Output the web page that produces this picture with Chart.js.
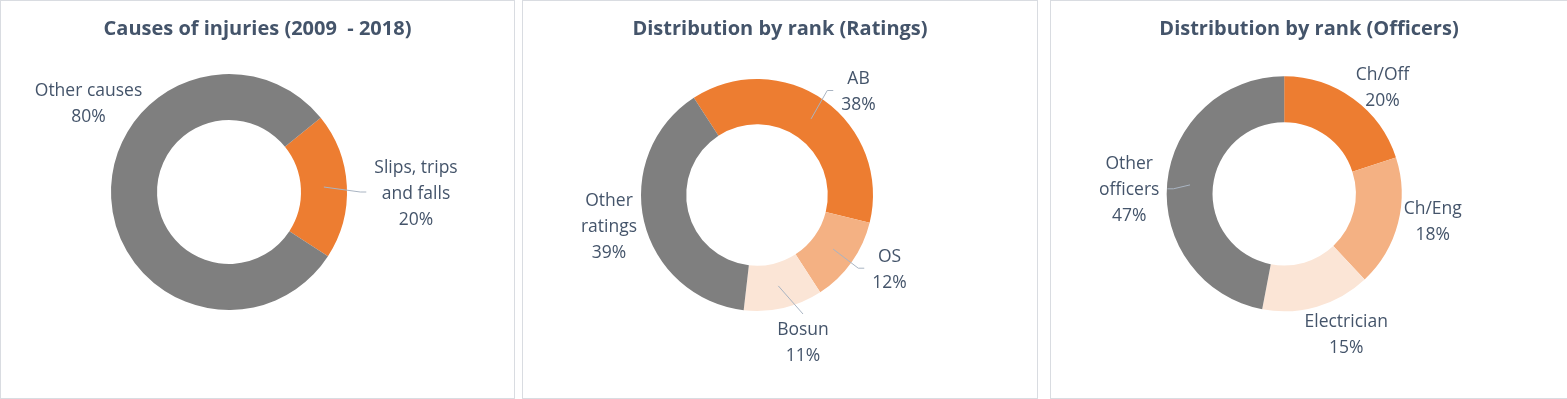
<!DOCTYPE html>
<html>
<head>
<meta charset="utf-8">
<script src="https://cdn.jsdelivr.net/npm/chart.js@4.4.0/dist/chart.umd.min.js"></script>
<style>
    html, body { margin: 0; padding: 0; background: #fff; }
    body { width: 1567px; height: 399px; position: relative; overflow: hidden; }
    .panel { position: absolute; top: 0; height: 399px; box-sizing: border-box; border: 1px solid #d9dce1; background: #fff; }
    .panel canvas { display: block; }
</style>
</head>
<body>
<div class="panel" style="left:0;width:515px"><canvas id="causesChart" width="513" height="397"></canvas></div>
<div class="panel" style="left:522px;width:516px"><canvas id="ratingsChart" width="514" height="397"></canvas></div>
<div class="panel" style="left:1050px;width:518px"><canvas id="officersChart" width="516" height="397"></canvas></div>

<script>
// data
const causeLabels = ["Slips, trips\nand falls", "Other causes"];
const causeValues = [20, 80];

const ratingLabels = ["AB", "OS", "Bosun", "Other\nratings"];
const ratingValues = [38, 12, 11, 39];

const officerLabels = ["Ch/Off", "Ch/Eng", "Electrician", "Other\nofficers"];
const officerValues = [20, 18, 15, 47];

const causeColors = ["#ED7D31", "#7F7F7F"];
const rankColors = ["#ED7D31", "#F4B183", "#FBE5D6", "#7F7F7F"];

const TEXT_COLOR = "#44546A";
const LEADER_COLOR = "#A9B4C2";
const LABEL_FONT = "17.5px 'Open Sans'";
const TITLE_FONT = "bold 20px 'Open Sans'";
const LINE_GAP = 26;

// draws title, data labels (name + percent) and leader lines
const calloutPlugin = {
    id: "callouts",
    afterDraw(chart, args, opts) {
        const ctx = chart.ctx;
        const arcs = chart.getDatasetMeta(0).data;
        const values = chart.data.datasets[0].data;
        const total = values.reduce((a, b) => a + b, 0);
        const cx = arcs[0].x;
        const cy = arcs[0].y;

        ctx.save();
        ctx.fillStyle = TEXT_COLOR;
        ctx.textAlign = "center";
        ctx.textBaseline = "alphabetic";
        ctx.font = TITLE_FONT;
        ctx.fillText(opts.title, chart.width / 2, 34);

        ctx.font = LABEL_FONT;
        chart.data.labels.forEach((label, i) => {
            const place = opts.placement[i];
            const lines = label.split("\n").concat(Math.round(values[i] / total * 100) + "%");
            const x = cx + place.dx;
            const y0 = cy + place.dy;
            lines.forEach((t, k) => ctx.fillText(t, x, y0 + k * LINE_GAP));

            if (!place.leader) return;
            const w = Math.max(...lines.map(t => ctx.measureText(t).width));
            const top = y0 - 13;
            const bottom = y0 + (lines.length - 1) * LINE_GAP;
            const mid = (top + bottom) / 2;
            const p = arcs[i].getCenterPoint();
            let pts;
            if (Math.abs(x - p.x) > Math.abs(mid - p.y)) {
                const dir = x > p.x ? -1 : 1;
                const ex = x + dir * (w / 2 + 8);
                pts = [p, { x: ex + dir * 6, y: mid }, { x: ex, y: mid }];
            } else {
                const ey = mid > p.y ? top - 8 : bottom + 8;
                pts = [p, { x: x, y: ey }];
            }
            ctx.strokeStyle = LEADER_COLOR;
            ctx.lineWidth = 1;
            ctx.beginPath();
            ctx.moveTo(pts[0].x, pts[0].y);
            pts.slice(1).forEach(pt => ctx.lineTo(pt.x, pt.y));
            ctx.stroke();
        });
        ctx.restore();
    }
};

function renderDonut(canvasId, labels, values, colors, ring, rotation, title, placement) {
    const canvas = document.getElementById(canvasId);
    const W = canvas.width, H = canvas.height;
    return new Chart(canvas.getContext("2d"), {
        type: "doughnut",
        data: {
            labels,
            datasets: [{
                data: values,
                backgroundColor: colors,
                borderWidth: 0,
            }],
        },
        options: {
            responsive: false,
            animation: false,
            events: [],
            rotation: rotation,
            cutout: "61%",
            layout: {
                padding: {
                    left: ring.cx - ring.r,
                    top: ring.cy - ring.r,
                    right: W - ring.cx - ring.r,
                    bottom: H - ring.cy - ring.r,
                }
            },
            plugins: {
                legend: { display: false },
                tooltip: { enabled: false },
                title: { display: false },
                callouts: { title, placement },
            },
        },
        plugins: [calloutPlugin],
    });
}

renderDonut("causesChart", causeLabels, causeValues, causeColors,
    { cx: 228, cy: 191, r: 118 }, 51,
    "Causes of injuries (2009  - 2018)",
    [{ dx: 187, dy: -19.5, leader: true }, { dx: -140.5, dy: -96.5 }]);

renderDonut("ratingsChart", ratingLabels, ratingValues, rankColors,
    { cx: 234, cy: 194, r: 116 }, -33,
    "Distribution by rank (Ratings)",
    [{ dx: 101.5, dy: -111, leader: true }, { dx: 132.5, dy: 66.7, leader: true },
     { dx: 46, dy: 140, leader: true }, { dx: -148, dy: 11 }]);

renderDonut("officersChart", officerLabels, officerValues, rankColors,
    { cx: 233.2, cy: 192.8, r: 117.5 }, 0,
    "Distribution by rank (Officers)",
    [{ dx: 98.3, dy: -113.8 }, { dx: 148.5, dy: 20 },
     { dx: 62, dy: 133 }, { dx: -155, dy: -24.5, leader: true }]);
</script>
</body>
</html>
